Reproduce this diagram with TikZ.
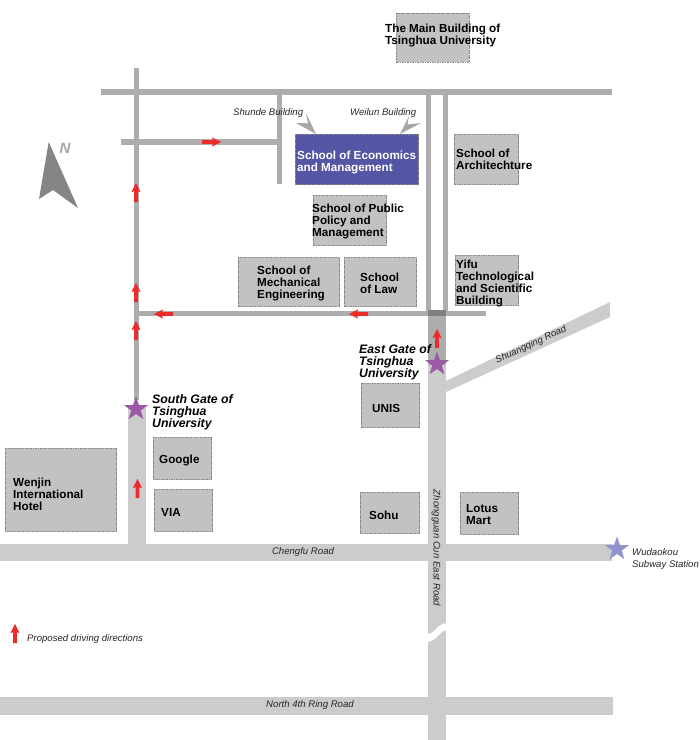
\documentclass[tikz,border=0pt]{standalone}
\usepackage{fontspec}
\setmainfont{Liberation Sans}
\usetikzlibrary{shapes.geometric}
\definecolor{roaddark}{HTML}{ADADAD}
\definecolor{roadlight}{HTML}{CCCCCC}
\definecolor{bldgfill}{HTML}{C2C2C2}
\definecolor{bldgline}{HTML}{8A8A8A}
\definecolor{semblue}{HTML}{5555A6}
\definecolor{redarr}{HTML}{EE2B2B}
\definecolor{gatestar}{HTML}{9B59A6}
\definecolor{subwaystar}{HTML}{8F93CE}
\definecolor{callout}{HTML}{A6A6A6}
\definecolor{northgrey}{HTML}{858585}
\tikzset{
  x=1pt,y=-1pt,
  darkroad/.style={fill=roaddark,draw=none},
  lightroad/.style={fill=roadlight,draw=none},
  bldg/.style={fill=bldgfill,draw=bldgline,line width=0.8pt,dash pattern=on 1.6pt off 0.9pt},
  bldgblue/.style={bldg,fill=semblue},
  lbl/.style={anchor=west,inner sep=0pt,align=left,yshift=-1pt,font=\fontsize{11.7}{12}\selectfont\bfseries},
  gatelbl/.style={lbl,font=\fontsize{12.3}{12}\selectfont\bfseries\itshape},
  roadlbl/.style={inner sep=0pt,font=\fontsize{9.6}{12}\selectfont\itshape,text=black!85},
  notelbl/.style={anchor=west,inner sep=0pt,align=left,yshift=-1.5pt,font=\fontsize{9.6}{12}\selectfont\itshape,text=black!85},
  gstar/.style={star,star points=5,star point ratio=2.5,minimum size=25pt,inner sep=0pt,fill=#1,draw=none},
  redarrow/.pic={\fill[redarr] (0,0) -- (4.6,9) -- (1.9,8.2) -- (1.9,19) -- (-1.9,19) -- (-1.9,8.2) -- (-4.6,9) -- cycle;}
}
\begin{document}
\begin{tikzpicture}
\useasboundingbox (0,0) rectangle (700,740);
% light roads
\path[lightroad] (0,544) rectangle (612,561);
\path[lightroad] (0,697) rectangle (613,715);
\path[lightroad] (128.3,408) rectangle (145.7,544);
\path[lightroad] (428.3,316) rectangle (446,740);
\path[lightroad] (446,381) -- (610,302) -- (610,317) -- (446,392) -- cycle;
% break in Zhongguan Cun East Road
\fill[white] (427,634) .. controls (436,634) and (436,624) .. (447,623) -- (447,630) .. controls (438,631) and (438,641) .. (427,642) -- cycle;
% dark roads
\path[darkroad] (101,89.3) rectangle (611.7,94.7);
\path[darkroad] (134,68) rectangle (139,400);
\path[darkroad] (121,139.3) rectangle (277,144.7);
\path[darkroad] (277,94) rectangle (282,184);
\path[darkroad] (136,311) rectangle (485.7,316);
\path[darkroad] (426,94) rectangle (431,311);
\path[darkroad] (443,94) rectangle (448,311);
\path[darkroad] (428.3,316) rectangle (446,365);
\fill[black!50] (428.3,310) rectangle (446,316);
% buildings
\path[bldg] (396,13) rectangle (469,62);
\path[bldgblue] (295.4,134.4) rectangle (418.6,184.6);
\path[bldg] (313.4,195.4) rectangle (386.6,245.6);
\path[bldg] (454.4,134.4) rectangle (518.6,184.6);
\path[bldg] (238.4,257.4) rectangle (339.6,306.6);
\path[bldg] (344.4,257.4) rectangle (416.6,306.6);
\path[bldg] (455.4,255.4) rectangle (518.6,305.6);
\path[bldg] (361.4,383.4) rectangle (419.6,427.6);
\path[bldg] (360.4,492.4) rectangle (419.6,533.6);
\path[bldg] (460.4,492.4) rectangle (518.6,534.6);
\path[bldg] (153.4,437.4) rectangle (211.6,479.6);
\path[bldg] (154.4,489.4) rectangle (212.6,531.6);
\path[bldg] (5.4,448.4) rectangle (116.6,531.6);
% building callouts
\fill[callout] (316,134) -- (306,113) -- (308,123.3) -- (296,123) -- cycle;
\fill[callout] (400,134) -- (409,116) -- (407.5,124.5) -- (421,123) -- cycle;
% north arrow
\fill[northgrey] (48.7,142) -- (78,208) -- (53,190) -- (39,199) -- cycle;
\node[inner sep=0pt,text=callout,font=\fontsize{15}{15}\selectfont\bfseries\itshape] (north) at (65,148) {N};
% red direction arrows
\path (136,183) pic {redarrow};
\path (136,283) pic {redarrow};
\path (136,321) pic {redarrow};
\path (137.5,479) pic {redarrow};
\path (437,329) pic {redarrow};
\path (15,624) pic {redarrow};
\path (221,142) pic[rotate=-90] {redarrow};
\path (154,314) pic[rotate=90] {redarrow};
\path (349,314) pic[rotate=90] {redarrow};
% stars
\node[gstar=gatestar] (eaststar) at (437,364) {};
\node[gstar=gatestar] (southstar) at (136,409) {};
\node[gstar=subwaystar] (subwaystar) at (617,549) {};
% building labels
\node[lbl] (main) at (385,34) {The Main Building of\\Tsinghua University};
\node[lbl,text=white] (sem) at (297,161) {School of Economics\\and Management};
\node[lbl] (arch) at (456,158) {School of\\Architechture};
\node[lbl] (policy) at (312,220) {School of Public\\Policy and\\Management};
\node[lbl] (mech) at (257,282) {School of\\Mechanical\\Engineering};
\node[lbl] (law) at (360,282) {School\\of Law};
\node[lbl] (yifu) at (456,282) {Yifu\\Technological\\and Scientific\\Building};
\node[lbl] (unis) at (372,407) {UNIS};
\node[lbl] (google) at (159,459) {Google};
\node[lbl] (via) at (161,511) {VIA};
\node[lbl] (wenjin) at (13,493) {Wenjin\\International\\Hotel};
\node[lbl] (sohu) at (369,514) {Sohu};
\node[lbl] (lotus) at (466,514) {Lotus\\Mart};
\node[gatelbl] (eastgate) at (359,361) {East Gate of\\Tsinghua\\University};
\node[gatelbl] (southgate) at (152,411) {South Gate of\\Tsinghua\\University};
% notes and road names
\node[notelbl] (shunde) at (233,112) {Shunde Building};
\node[notelbl] (weilun) at (350,112) {Weilun Building};
\node[notelbl] (wudaokou) at (632,558) {Wudaokou\\Subway Station};
\node[notelbl] (legend) at (27,638) {Proposed driving directions};
\node[roadlbl] (chengfu) at (303,552) {Chengfu Road};
\node[roadlbl] (fourth) at (310,705.5) {North 4th Ring Road};
\node[roadlbl,rotate=-90] (zhongguan) at (436,548) {Zhongguan Cun East Road};
\node[roadlbl,rotate=25] (shuangqing) at (531,345) {Shuangqing Road};
\end{tikzpicture}
\end{document}
